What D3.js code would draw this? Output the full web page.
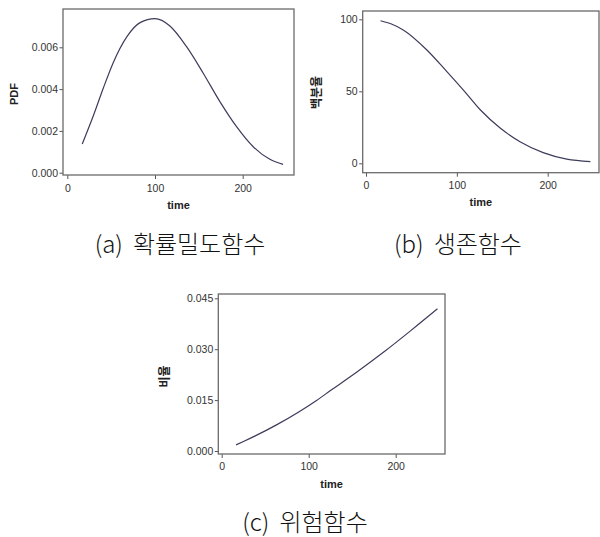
<!DOCTYPE html>
<html>
<head>
<meta charset="utf-8">
<script src="https://cdn.jsdelivr.net/npm/d3@7"></script>
<style>
  body { margin: 0; background: #fff; }
  .tick text { font-family: "Liberation Sans", Arial, sans-serif; font-size: 10.5px; fill: #333; }
  .tick line { stroke: #555; }
</style>
</head>
<body>
<svg id="chart" width="600" height="537"></svg>
<script>
// values
var pdfTime  = [17, 30, 41, 52, 68, 83, 100, 117, 136, 155, 174, 193, 212, 231, 246];
var pdfValue = [0.00137, 0.00276, 0.00404, 0.00523, 0.00651, 0.00718, 0.00737, 0.00702, 0.00603, 0.00476, 0.0034, 0.0022, 0.00124, 0.00064, 0.0004];

var survTime  = [16, 28, 41, 67, 89, 107, 126, 148, 170, 195, 221, 247];
var survValue = [99.0, 96.7, 92.6, 78.7, 63.7, 51, 37, 24.3, 14.8, 7.4, 2.9, 1.2];

var hazTime  = [16.5, 25, 63, 109, 125, 155, 187, 217, 248];
var hazValue = [0.0018, 0.0028, 0.0077, 0.0149, 0.0178, 0.0232, 0.0293, 0.0354, 0.0419];

var xTicks = [0, 100, 200];
var pdfTicks = [0, 0.002, 0.004, 0.006];
var survTicks = [0, 50, 100];
var hazTicks = [0, 0.015, 0.030, 0.045];

var capTags = ["(a)", "(b)", "(c)"];
var captions = ["확률밀도함수", "생존함수", "위험함수"];
var yLabels = ["PDF", "백분율", "비율"];

var svg = d3.select("#chart");

// panel layout (pixel boxes)
var panels = [
  {t: pdfTime, v: pdfValue, yt: pdfTicks, fmt: ".3f", ylab: yLabels[0], tag: capTags[0], cap: captions[0],
   box: [63, 294, 9, 175], xr: [67.3, 242.7], yd: [0, 0.006], yr: [172.7, 47.3],
   ylx: 13.5, yly: 94, ylfs: 11, capx: 180, capy: 242, xpad: 6},
  {t: survTime, v: survValue, yt: survTicks, fmt: "d", ylab: yLabels[1], tag: capTags[1], cap: captions[1],
   box: [362.7, 599, 11, 172.7], xr: [366, 547.7], yd: [0, 100], yr: [163.3, 19.3],
   ylx: 317, yly: 92.5, ylfs: 12, capx: 458, capy: 242, xpad: 4.5},
  {t: hazTime, v: hazValue, yt: hazTicks, fmt: ".3f", ylab: yLabels[2], tag: capTags[2], cap: captions[2],
   box: [218.3, 445, 294, 454], xr: [221.7, 395.7], yd: [0, 0.045], yr: [451, 298.3],
   ylx: 164.5, yly: 376.5, ylfs: 12, capx: 305, capy: 520, xpad: 5}
];

panels.forEach(function(p) {
  var x = d3.scaleLinear().domain([0, 200]).range(p.xr),
      y = d3.scaleLinear().domain(p.yd).range(p.yr);
  var b = p.box;
  var g = svg.append("g");

  // y axis on left edge of the frame
  var ya = g.append("g")
      .attr("transform", "translate(" + b[0] + ",0)")
      .call(d3.axisLeft(y).tickValues(p.yt).tickFormat(d3.format(p.fmt)).tickSize(3.5).tickPadding(1.5));
  ya.select(".domain").remove();

  var xa = g.append("g")
      .attr("transform", "translate(0," + b[3] + ")")
      .call(d3.axisBottom(x).tickValues(xTicks).tickSize(4).tickPadding(p.xpad));
  xa.select(".domain").remove();

  // frame
  g.append("rect")
      .attr("x", b[0]).attr("y", b[2])
      .attr("width", b[1] - b[0]).attr("height", b[3] - b[2])
      .attr("fill", "none")
      .attr("stroke", "#6a6a6a")
      .attr("stroke-width", 1.3);

  var line = d3.line()
      .curve(d3.curveMonotoneX)
      .x(function(d) { return x(d[0]); })
      .y(function(d) { return y(d[1]); });

  g.append("path")
      .datum(d3.zip(p.t, p.v))
      .attr("d", line)
      .attr("fill", "none")
      .attr("stroke", "#3c3c5c")
      .attr("stroke-width", 1.2);

  g.append("text")
      .attr("x", (b[0] + b[1]) / 2)
      .attr("y", b[3] + 29.5)
      .attr("text-anchor", "middle")
      .attr("dominant-baseline", "central")
      .style("font-family", "'Liberation Sans', Arial, sans-serif")
      .style("font-weight", "bold")
      .style("font-size", "11px")
      .style("fill", "#222")
      .text("time");

  g.append("text")
      .attr("transform", "translate(" + p.ylx + "," + p.yly + ") rotate(-90)")
      .attr("text-anchor", "middle")
      .attr("dominant-baseline", "central")
      .style("font-family", "'Liberation Sans', 'Noto Sans CJK KR', sans-serif")
      .style("font-weight", "bold")
      .style("font-size", p.ylfs + "px")
      .style("fill", "#222")
      .text(p.ylab);

  var cap = svg.append("text")
      .attr("x", p.capx)
      .attr("y", p.capy)
      .attr("text-anchor", "middle")
      .attr("dominant-baseline", "central")
      .style("font-family", "'Noto Sans CJK KR', sans-serif")
      .style("font-weight", 300)
      .style("font-size", "24px")
      .style("fill", "#111");
  cap.append("tspan").text(p.tag);
  cap.append("tspan").attr("dx", 10).text(p.cap);
});
</script>
</body>
</html>
